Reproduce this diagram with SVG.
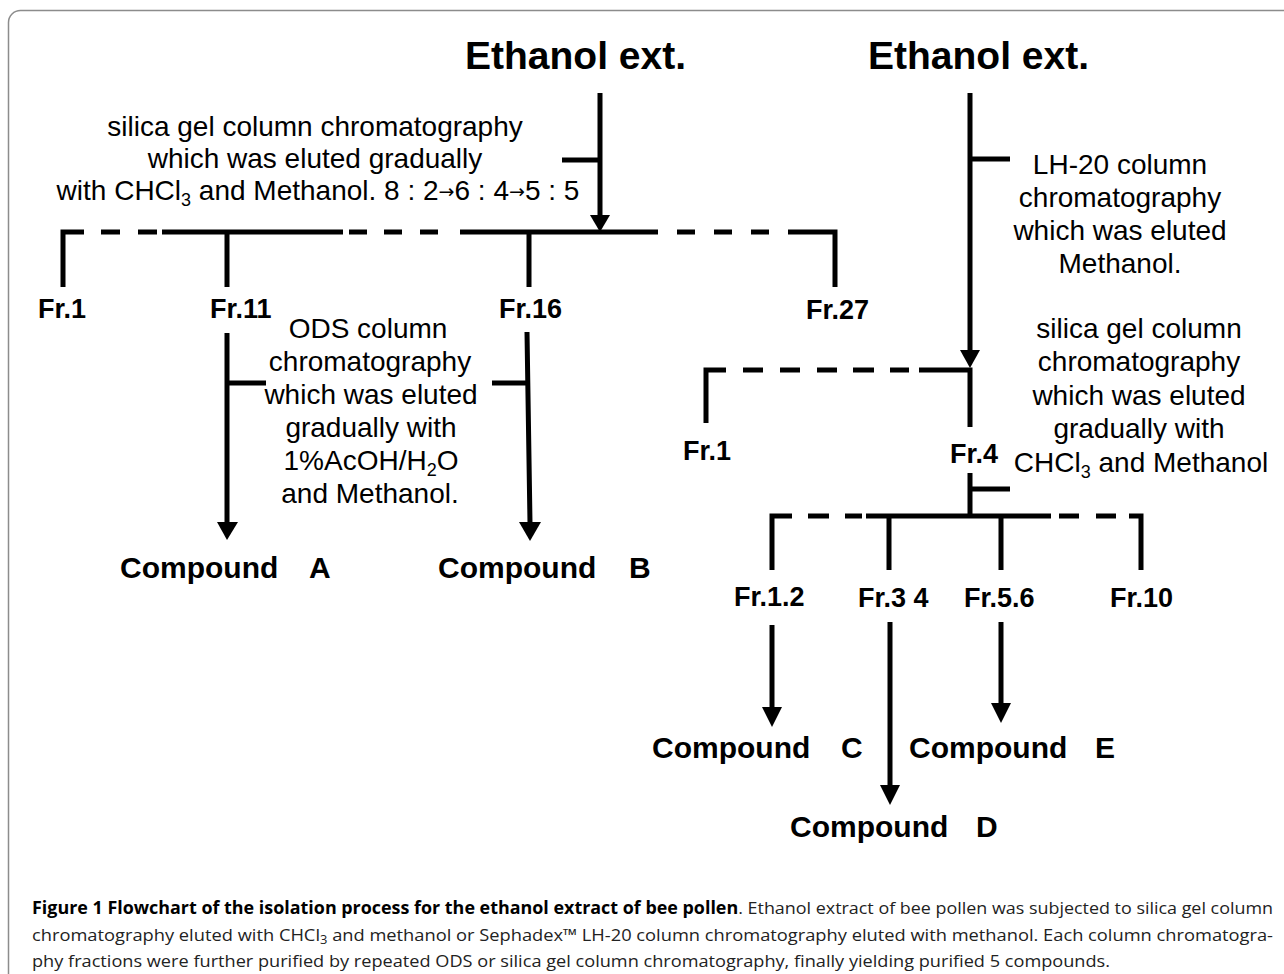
<svg xmlns="http://www.w3.org/2000/svg" width="1284" height="974" viewBox="0 0 1284 974">
<style>
.t{font-family:"Liberation Sans",Arial,sans-serif;font-size:28px;fill:#000;text-anchor:middle}
.fr{font-family:"Liberation Sans",Arial,sans-serif;font-size:27px;font-weight:bold;fill:#000}
.cmp{font-family:"Liberation Sans",Arial,sans-serif;font-size:30px;font-weight:bold;fill:#000}
.title{font-family:"Liberation Sans",Arial,sans-serif;font-size:39px;font-weight:bold;fill:#000}
.cap{font-family:"Open Sans","Noto Sans",sans-serif;font-size:17px;fill:#222}
.ln{stroke:#000;stroke-width:5;fill:none}
.hd{fill:#000}
.sub{font-size:18px}
.ar{font-family:"DejaVu Sans",sans-serif;font-size:19px}
</style>
<rect x="0" y="0" width="1284" height="974" fill="#fff"/>
<rect x="8.5" y="10.5" width="1300" height="1000" rx="12" fill="none" stroke="#8c8c8c" stroke-width="1.5"/>

<g id="connectors">
  <!-- left tree -->
  <path class="ln" d="M600,93 V216 M562,160 H600"/>
  <polygon class="hd" points="590,215 610,215 600,232"/>
  <path class="ln" d="M63,287 V232 H84 M101,232 H120 M138,232 H157 M162,232 H343 M349,232 H367 M384,232 H402 M420,232 H438 M460,232 H658 M677,232 H695 M714,232 H732 M751,232 H769 M788,232 H835 V287"/>
  <path class="ln" d="M227,232 V287 M529,232 V287"/>
  <path class="ln" d="M227,333 V523 M227,383 H266"/>
  <polygon class="hd" points="217,522 238,522 227,540"/>
  <path class="ln" d="M527,332 L530,523 M492,383 H527"/>
  <polygon class="hd" points="519,522 541,522 530,541"/>
  <!-- right tree -->
  <path class="ln" d="M970,93 V351 M970,159 H1010"/>
  <polygon class="hd" points="960,350 980,350 970,368"/>
  <path class="ln" d="M706,423 V370 H726 M743,370 H763 M780,370 H800 M817,370 H837 M853,370 H874 M890,370 H909 M919,370 H970 V427"/>
  <path class="ln" d="M970,473 V516 M970,489 H1010"/>
  <path class="ln" d="M772,570 V516 H792 M808,516 H829 M845,516 H862 M866,516 H1051 M1059,516 H1079 M1096,516 H1116 M1129,516 H1141 V570"/>
  <path class="ln" d="M889,516 V570 M1001,516 V570"/>
  <path class="ln" d="M772,625 V708"/>
  <polygon class="hd" points="762,707 782,707 772,727"/>
  <path class="ln" d="M890,622 V786"/>
  <polygon class="hd" points="880,785 900,785 890,805"/>
  <path class="ln" d="M1001,622 V704"/>
  <polygon class="hd" points="991,703 1011,703 1001,723"/>
</g>

<g id="ethanol-left"><text class="title" x="465" y="69">Ethanol ext.</text></g>
<g id="ethanol-right"><text class="title" x="868" y="69">Ethanol ext.</text></g>

<g id="label-silica-left">
  <text class="t" x="315" y="136">silica gel column chromatography</text>
  <text class="t" x="315" y="168">which was eluted gradually</text>
  <text class="t" x="318" y="200">with CHCl<tspan class="sub" dy="6">3</tspan><tspan dy="-6"> and Methanol. 8 : 2</tspan><tspan class="ar" dy="-2">→</tspan><tspan dy="2">6 : 4</tspan><tspan class="ar" dy="-2">→</tspan><tspan dy="2">5 : 5</tspan></text>
</g>

<g id="fr1-left"><text class="fr" x="38" y="318">Fr.1</text></g>
<g id="fr11"><text class="fr" x="210" y="318">Fr.11</text></g>
<g id="fr16"><text class="fr" x="499" y="318">Fr.16</text></g>
<g id="fr27"><text class="fr" x="806" y="319">Fr.27</text></g>

<g id="label-ods">
  <text class="t" x="368" y="338">ODS column</text>
  <text class="t" x="370" y="371">chromatography</text>
  <text class="t" x="371" y="404">which was eluted</text>
  <text class="t" x="371" y="437">gradually with</text>
  <text class="t" x="371" y="470">1%AcOH/H<tspan class="sub" dy="6">2</tspan><tspan dy="-6">O</tspan></text>
  <text class="t" x="370" y="503">and Methanol.</text>
</g>

<g id="compound-a"><text class="cmp" x="120" y="578">Compound<tspan x="309">A</tspan></text></g>
<g id="compound-b"><text class="cmp" x="438" y="578">Compound<tspan x="629">B</tspan></text></g>

<g id="label-lh20">
  <text class="t" x="1120" y="174">LH-20 column</text>
  <text class="t" x="1120" y="207">chromatography</text>
  <text class="t" x="1120" y="240">which was eluted</text>
  <text class="t" x="1120" y="273">Methanol.</text>
</g>

<g id="label-silica-right">
  <text class="t" x="1139" y="338">silica gel column</text>
  <text class="t" x="1139" y="371">chromatography</text>
  <text class="t" x="1139" y="405">which was eluted</text>
  <text class="t" x="1139" y="438">gradually with</text>
  <text class="t" x="1141" y="472">CHCl<tspan class="sub" dy="6">3</tspan><tspan dy="-6"> and Methanol</tspan></text>
</g>

<g id="fr1-right"><text class="fr" x="683" y="460">Fr.1</text></g>
<g id="fr4"><text class="fr" x="950" y="463">Fr.4</text></g>
<g id="fr12"><text class="fr" x="734" y="606">Fr.1.2</text></g>
<g id="fr34"><text class="fr" x="858" y="607">Fr.3 4</text></g>
<g id="fr56"><text class="fr" x="964" y="607">Fr.5.6</text></g>
<g id="fr10"><text class="fr" x="1110" y="607">Fr.10</text></g>

<g id="compound-c"><text class="cmp" x="652" y="758">Compound<tspan x="841">C</tspan></text></g>
<g id="compound-e"><text class="cmp" x="909" y="758">Compound<tspan x="1095">E</tspan></text></g>
<g id="compound-d"><text class="cmp" x="790" y="837">Compound<tspan x="976">D</tspan></text></g>

<g id="caption">
  <text class="cap" x="32" y="914" textLength="1241" lengthAdjust="spacingAndGlyphs"><tspan font-weight="bold" fill="#000">Figure 1 Flowchart of the isolation process for the ethanol extract of bee pollen</tspan>. Ethanol extract of bee pollen was subjected to silica gel column</text>
  <text class="cap" x="32" y="941" textLength="1241" lengthAdjust="spacingAndGlyphs">chromatography eluted with CHCl<tspan font-size="12" dy="3">3</tspan><tspan dy="-3"> and methanol or Sephadex™ LH-20 column chromatography eluted with methanol. Each column chromatogra-</tspan></text>
  <text class="cap" x="32" y="967" textLength="1078" lengthAdjust="spacingAndGlyphs">phy fractions were further purified by repeated ODS or silica gel column chromatography, finally yielding purified 5 compounds.</text>
</g>
</svg>
